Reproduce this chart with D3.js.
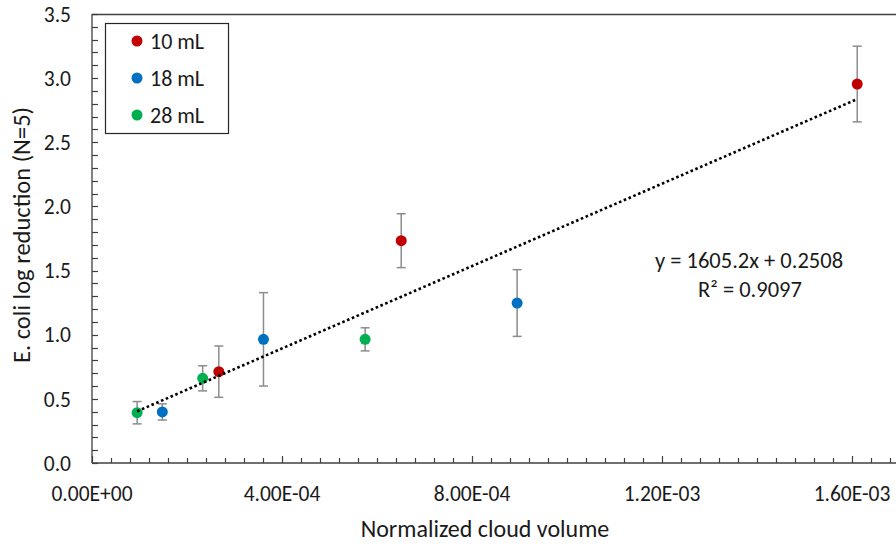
<!DOCTYPE html>
<html>
<head>
<meta charset="utf-8">
<script src="https://cdn.jsdelivr.net/npm/d3@7"></script>
<style>
  html, body { margin: 0; padding: 0; background: #fff; }
  svg { display: block; font-family: Carlito, Calibri, Lato, sans-serif; }
</style>
</head>
<body>
<svg id="chart" width="896" height="544"></svg>
<script>
// ---- data ----
const seriesNames = ["10 mL", "18 mL", "28 mL"];
const seriesColors = ["#C00000", "#0070C0", "#00B050"];

const x10 = [2.67e-4, 6.51e-4, 1.611e-3];
const y10 = [0.712, 1.733, 2.954];
const e10 = [0.20, 0.21, 0.295];

const x18 = [1.48e-4, 3.61e-4, 8.95e-4];
const y18 = [0.398, 0.964, 1.247];
const e18 = [0.063, 0.364, 0.26];

const x28 = [9.5e-5, 2.33e-4, 5.75e-4];
const y28 = [0.392, 0.660, 0.964];
const e28 = [0.087, 0.098, 0.090];

const trendSlope = 1605.2;
const trendIntercept = 0.2508;
const eqText = "y = 1605.2x + 0.2508";
const r2Text = "R² = 0.9097";

const xTickValues = [0, 4e-4, 8e-4, 1.2e-3, 1.6e-3];
const xTickLabels = ["0.00E+00", "4.00E-04", "8.00E-04", "1.20E-03", "1.60E-03"];
const yTickValues = [0, 0.5, 1.0, 1.5, 2.0, 2.5, 3.0, 3.5];
const yTickLabels = ["0.0", "0.5", "1.0", "1.5", "2.0", "2.5", "3.0", "3.5"];

const xTitle = "Normalized cloud volume";
const yTitle = "E. coli log reduction (N=5)";

(function () {
// ---- layout ----
const svg = d3.select("#chart");
const pLeft = 92, pBottom = 463, pTop = 14;
const x = d3.scaleLinear().domain([0, 1.7e-3]).range([pLeft, pLeft + 190 * 4.25]);
const y = d3.scaleLinear().domain([0, 3.5]).range([pBottom, pTop]);
const axisColor = "#404040";
const textColor = "#1a1a1a";
const tickFont = 21.5;

const series = [
  {name: seriesNames[0], color: seriesColors[0], xs: x10, ys: y10, es: e10},
  {name: seriesNames[1], color: seriesColors[1], xs: x18, ys: y18, es: e18},
  {name: seriesNames[2], color: seriesColors[2], xs: x28, ys: y28, es: e28}
];
const points = [];
series.forEach(s => s.xs.forEach((v, i) => points.push({x: v, y: s.ys[i], e: s.es[i], color: s.color})));

// top border
svg.append("line").attr("x1", pLeft).attr("x2", 896).attr("y1", pTop + 0.5).attr("y2", pTop + 0.5)
  .attr("stroke", axisColor).attr("stroke-width", 1.3);

// x axis
const xMinor = d3.range(0, 1.7e-3 + 1e-9, 4e-5);
const xAxisG = svg.append("g");
xAxisG.append("line").attr("x1", pLeft).attr("x2", 896).attr("y1", pBottom).attr("y2", pBottom)
  .attr("stroke", axisColor).attr("stroke-width", 1.3);
xAxisG.selectAll("line.minor").data(xMinor).join("line").attr("class", "minor")
  .attr("x1", d => Math.round(x(d)) + 0.5).attr("x2", d => Math.round(x(d)) + 0.5)
  .attr("y1", pBottom).attr("y2", (d, i) => i % 10 === 0 ? pBottom - 7 : pBottom - 5)
  .attr("stroke", axisColor).attr("stroke-width", 1.2);
xAxisG.selectAll("text").data(xTickValues).join("text")
  .attr("x", d => x(d)).attr("y", 500.5)
  .attr("text-anchor", "middle").attr("font-size", tickFont).attr("fill", textColor)
  .text((d, i) => xTickLabels[i]);

// y axis
const yMinor = d3.range(0, 3.5 + 1e-9, 0.1);
const yAxisG = svg.append("g");
yAxisG.append("line").attr("x1", pLeft).attr("x2", pLeft).attr("y1", pTop).attr("y2", pBottom)
  .attr("stroke", axisColor).attr("stroke-width", 1.3);
yAxisG.selectAll("line.minor").data(yMinor).join("line").attr("class", "minor")
  .attr("x1", pLeft).attr("x2", pLeft + 6)
  .attr("y1", d => Math.round(y(d)) + 0.5).attr("y2", d => Math.round(y(d)) + 0.5)
  .attr("stroke", axisColor).attr("stroke-width", 1.2);
yAxisG.selectAll("text").data(yTickValues).join("text")
  .attr("x", 71).attr("y", d => y(d)).attr("dy", "0.36em")
  .attr("text-anchor", "end").attr("font-size", tickFont).attr("fill", textColor)
  .text((d, i) => yTickLabels[i]);

// axis titles
svg.append("text").attr("x", 485).attr("y", 537).attr("text-anchor", "middle")
  .attr("font-size", 24).attr("fill", textColor).text(xTitle);
svg.append("text").attr("transform", "translate(30,235) rotate(-90)").attr("text-anchor", "middle")
  .attr("font-size", 24.5).attr("fill", textColor).text(yTitle);

// error bars
const errG = svg.append("g").attr("stroke", "#8c8c8c").attr("stroke-width", 1.5);
points.forEach(p => {
  const cx = x(p.x);
  errG.append("line").attr("x1", cx).attr("x2", cx).attr("y1", y(p.y - p.e)).attr("y2", y(p.y + p.e));
  [p.y - p.e, p.y + p.e].forEach(v => {
    errG.append("line").attr("x1", cx - 4.5).attr("x2", cx + 4.5).attr("y1", y(v)).attr("y2", y(v));
  });
});

// markers
svg.append("g").selectAll("circle").data(points).join("circle")
  .attr("cx", d => x(d.x)).attr("cy", d => y(d.y)).attr("r", 5.5).attr("fill", d => d.color);

// trendline
const allX = points.map(p => p.x);
const tx0 = d3.min(allX), tx1 = d3.max(allX);
svg.append("line")
  .attr("x1", x(tx0)).attr("y1", y(trendSlope * tx0 + trendIntercept))
  .attr("x2", x(tx1)).attr("y2", y(trendSlope * tx1 + trendIntercept))
  .attr("stroke", "#000").attr("stroke-width", 2.6).attr("stroke-dasharray", "2.6 2.6");

// equation
svg.append("text").attr("x", 749).attr("y", 268).attr("text-anchor", "middle")
  .attr("font-size", 22.5).attr("fill", textColor).text(eqText);
svg.append("text").attr("x", 750).attr("y", 297).attr("text-anchor", "middle")
  .attr("font-size", 22.5).attr("fill", textColor).text(r2Text);

// legend
const lg = svg.append("g");
lg.append("rect").attr("x", 105.5).attr("y", 23.5).attr("width", 123).attr("height", 110)
  .attr("fill", "#fff").attr("stroke", "#262626").attr("stroke-width", 1.2);
series.forEach((s, i) => {
  const cy = 41 + i * 37;
  lg.append("circle").attr("cx", 137).attr("cy", cy).attr("r", 5.5).attr("fill", s.color);
  lg.append("text").attr("x", 150).attr("y", cy).attr("dy", "0.36em")
    .attr("font-size", 22).attr("fill", textColor).text(s.name);
});
})();
</script>
</body>
</html>
